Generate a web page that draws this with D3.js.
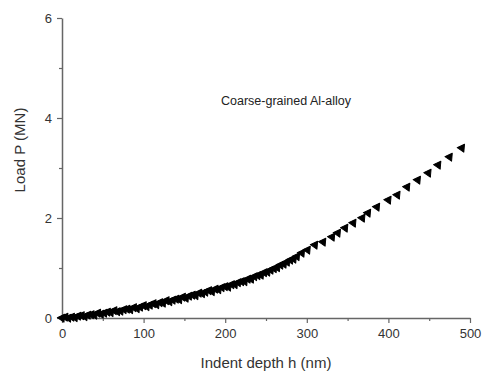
<!DOCTYPE html>
<html>
<head>
<meta charset="utf-8">
<script src="https://cdn.jsdelivr.net/npm/d3@7"></script>
<style>
  html, body { margin: 0; padding: 0; background: #fff; }
  text { font-family: "Liberation Sans", Arial, sans-serif; }
</style>
</head>
<body>
<div id="vis"></div>
<script>
// indent depth h (nm) and load P (MN)
const depth = [
  0, 4, 8, 12, 16, 20, 24, 28, 32, 36, 40, 44, 48, 52, 56, 60, 64, 68, 72, 76,
  80, 84, 88, 92, 96, 100, 104, 108, 112, 116, 120, 124, 128, 132, 136, 140,
  144, 148, 152, 156, 160, 164, 168, 172, 176, 180, 184, 188, 192, 196, 200,
  204, 208, 212, 216, 220, 224, 228, 232, 236, 240, 244, 248, 252, 256, 260,
  264, 268, 272, 276, 280, 284, 288,
  294, 301, 310, 320, 331, 338, 347, 357, 368, 375, 386, 400, 411, 423, 436,
  449, 461, 475, 490
]
const load = [
  0.00, 0.02, 0.00, 0.02, 0.01, 0.04, 0.05, 0.03, 0.06, 0.07, 0.06, 0.10, 0.08,
  0.10, 0.12, 0.11, 0.15, 0.13, 0.14, 0.17, 0.18, 0.17, 0.21, 0.19, 0.22, 0.25,
  0.23, 0.26, 0.29, 0.27, 0.31, 0.30, 0.35, 0.33, 0.36, 0.38, 0.37, 0.42, 0.40,
  0.44, 0.46, 0.45, 0.50, 0.49, 0.52, 0.55, 0.53, 0.58, 0.57, 0.61, 0.63, 0.62,
  0.67, 0.67, 0.71, 0.73, 0.73, 0.78, 0.78, 0.83, 0.85, 0.86, 0.91, 0.92, 0.96,
  0.99, 1.01, 1.06, 1.08, 1.12, 1.16, 1.18, 1.23,
  1.30, 1.36, 1.46, 1.52, 1.62, 1.70, 1.80, 1.90, 2.00, 2.10, 2.22, 2.36, 2.46,
  2.62, 2.76, 2.90, 3.06, 3.22, 3.40
]
const xTicks = [0, 100, 200, 300, 400, 500]
const xMinorTicks = [50, 150, 250, 350, 450]
const yTicks = [0, 2, 4, 6]
const yMinorTicks = [1, 3, 5]

const width = 482
const height = 376
const margin = { left: 62, top: 18, right: 12, bottom: 58 }
const innerWidth = width - margin.left - margin.right
const innerHeight = height - margin.top - margin.bottom

const data = depth.map((h, i) => ({ h, p: load[i] }))

const svg = d3.select('#vis')
  .append('svg')
  .attr('width', width)
  .attr('height', height)

const g = svg.append('g')
  .attr('transform', `translate(${margin.left},${margin.top})`)

const xScale = d3.scaleLinear().domain([0, 500]).range([0, innerWidth])
const yScale = d3.scaleLinear().domain([0, 6]).range([innerHeight, 0])

const axisColor = '#666'
const labelColor = '#333'

// minor ticks first, then the main axes on top
g.append('g')
  .attr('transform', `translate(0,${innerHeight})`)
  .call(d3.axisBottom(xScale).tickValues(xMinorTicks).tickSize(3).tickFormat(''))
  .call(a => a.select('.domain').remove())
  .selectAll('line').attr('stroke', axisColor).attr('stroke-width', 1.2)

g.append('g')
  .call(d3.axisLeft(yScale).tickValues(yMinorTicks).tickSize(3).tickFormat(''))
  .call(a => a.select('.domain').remove())
  .selectAll('line').attr('stroke', axisColor).attr('stroke-width', 1.2)

const xAxisG = g.append('g')
  .attr('transform', `translate(0,${innerHeight})`)
  .call(d3.axisBottom(xScale).tickValues(xTicks).tickFormat(d3.format('d'))
    .tickSize(5).tickSizeOuter(0).tickPadding(6))

const yAxisG = g.append('g')
  .call(d3.axisLeft(yScale).tickValues(yTicks).tickFormat(d3.format('d'))
    .tickSize(5).tickSizeOuter(0).tickPadding(5))

for (const a of [xAxisG, yAxisG]) {
  a.select('.domain').attr('stroke', axisColor).attr('stroke-width', 1.5)
  a.selectAll('line').attr('stroke', axisColor).attr('stroke-width', 1.2)
  a.selectAll('text')
    .attr('fill', labelColor)
    .style('font-size', '13px')
}

// axis titles
g.append('text')
  .attr('x', innerWidth / 2)
  .attr('y', innerHeight + 50)
  .attr('text-anchor', 'middle')
  .attr('fill', labelColor)
  .style('font-size', '15px')
  .text('Indent depth h (nm)')

g.append('text')
  .attr('transform', `translate(${-37},${innerHeight / 2 - 18}) rotate(-90)`)
  .attr('text-anchor', 'middle')
  .attr('fill', labelColor)
  .style('font-size', '15px')
  .text('Load P (MN)')

g.append('text')
  .attr('x', 159)
  .attr('y', 87)
  .attr('fill', '#222')
  .style('font-size', '12.5px')
  .text('Coarse-grained Al-alloy')

// markers
const marker = d3.symbol().type(d3.symbolTriangle).size(28)
g.selectAll('path.pt')
  .data(data)
  .enter()
  .append('path')
  .attr('class', 'pt')
  .attr('d', marker)
  .attr('transform', d => `translate(${xScale(d.h)},${yScale(d.p)}) rotate(155)`)
  .attr('fill', '#000')
  .attr('stroke', '#000')
  .attr('stroke-width', 1)
  .attr('stroke-linejoin', 'round')
</script>
</body>
</html>
